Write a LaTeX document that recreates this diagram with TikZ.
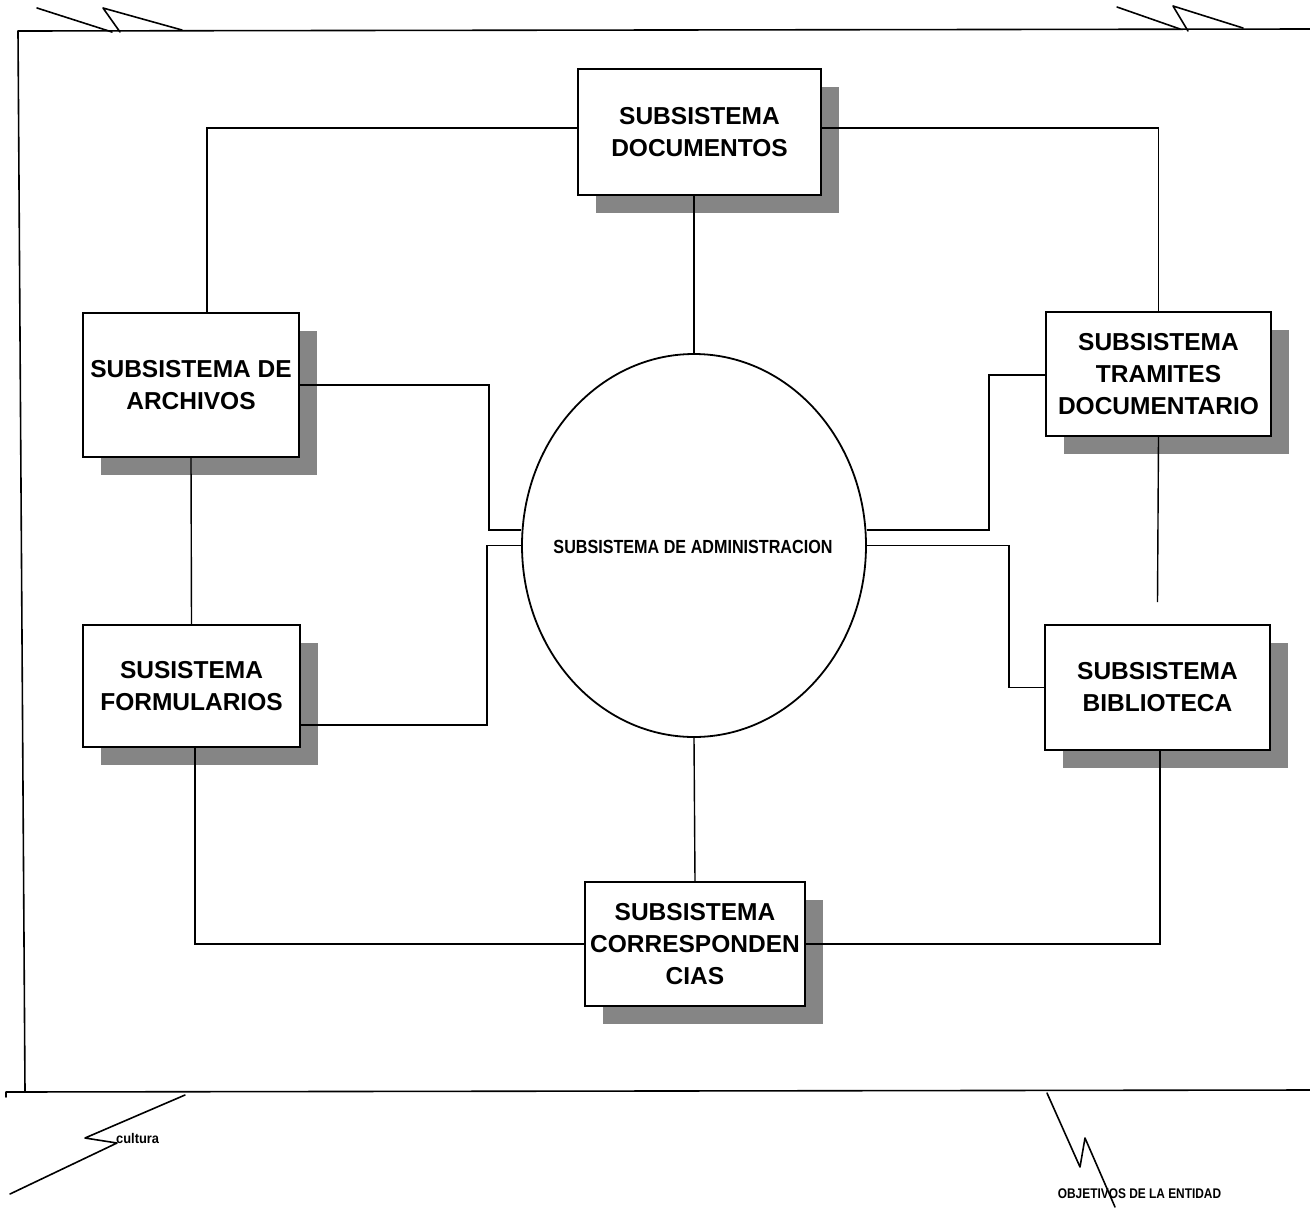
\documentclass[tikz,border=0pt]{standalone}
\usepackage{fontspec}
\setmainfont{Liberation Sans}
\usetikzlibrary{shapes.geometric,shadows,calc}
\begin{document}
\begin{tikzpicture}[x=1pt,y=-1pt,
  frameline/.style={line width=1.6pt,line cap=round,line join=round},
  conn/.style={line width=1.4pt},
  subbox/.style={draw,line width=2pt,fill=white,rectangle,inner sep=0pt,
    align=center,font=\bfseries\fontsize{24.5}{32}\selectfont,
    drop shadow={shadow xshift=18pt,shadow yshift=-18pt,opacity=1,fill=black!48}},
  centre/.style={draw,line width=1.8pt,ellipse,inner sep=0pt,fill=white,
    minimum width=344pt,minimum height=383pt},
  smalltxt/.style={inner sep=0pt,font=\bfseries}
]
\useasboundingbox (0,0) rectangle (1310,1208);
\fill[white] (0,0) rectangle (1310,1208);

% outer frame
\draw[frameline] (1310,29) -- (18,31) -- (25,1091);
\draw[frameline] (6,1097) -- (6,1092) -- (1310,1090);
% break marks
\draw[frameline] (37,8) -- (112,32);
\draw[frameline] (120,32) -- (103,8) -- (182,30);
\draw[frameline] (1117,7) -- (1180,29);
\draw[frameline] (1188,31) -- (1173,6) -- (1243,28);
\draw[frameline] (185,1095) -- (85,1138) -- (117,1143) -- (10,1194);
\draw[frameline] (1047,1093) -- (1080,1167) -- (1085,1138) -- (1115,1207);

% nodes
\node[centre] (ell) at (694,545.5) {};
\node[inner sep=0pt,font=\bfseries\fontsize{19}{22}\selectfont,xscale=0.85] (elltxt) at (693,547) {SUBSISTEMA DE ADMINISTRACION};

\node[subbox,minimum width=243pt,minimum height=126pt] (doc) at (699.5,132) {SUBSISTEMA\\DOCUMENTOS};
\node[subbox,minimum width=216pt,minimum height=144pt] (arch) at (191,385) {SUBSISTEMA DE\\ARCHIVOS};
\node[subbox,minimum width=217pt,minimum height=122pt] (form) at (191.5,686) {SUSISTEMA\\FORMULARIOS};
\node[subbox,minimum width=225pt,minimum height=124pt] (tram) at (1158.5,374) {SUBSISTEMA\\TRAMITES\\DOCUMENTARIO};
\node[subbox,minimum width=225pt,minimum height=125pt] (bib) at (1157.5,687.5) {SUBSISTEMA\\BIBLIOTECA};
\node[subbox,minimum width=220pt,minimum height=124pt] (corr) at (695,944) {SUBSISTEMA\\CORRESPONDEN\\CIAS};

% connectors
\draw[conn] ([yshift=4pt]doc.west) -| ([xshift=16pt]arch.north);
\draw[conn] ([yshift=4pt]doc.east) -| (tram.north);
\draw[conn] (ell.north) -- (ell.north |- doc.south);
\draw[conn] (arch.east) -- ++(189,0) |- ([yshift=15.5pt]ell.west);
\draw[conn] ([yshift=-39pt]form.east) -- ++(186,0) |- (ell.west);
\draw[conn] (arch.south) -- (form.north);
\draw[conn] ([xshift=3.5pt]form.south) |- (corr.west);
\draw[conn] ([xshift=2.5pt]bib.south) |- (corr.east);
\draw[conn] (ell.south) -- (corr.north);
\draw[conn] ([yshift=-1pt]tram.west) -- ++(-56,0) |- ([yshift=15.5pt]ell.east);
\draw[conn] (bib.west) -- ++(-35,0) |- (ell.east);
\draw[conn] (tram.south) -- ([yshift=22pt]bib.north);

% free labels
\node[smalltxt,font=\bfseries\fontsize{14}{16}\selectfont,xscale=0.92,anchor=base west] (cult) at (116,1143) {cultura};
\node[smalltxt,font=\bfseries\fontsize{14}{16}\selectfont,xscale=0.85,anchor=base] (obj) at (1139.5,1198) {OBJETIVOS DE LA ENTIDAD};
\end{tikzpicture}
\end{document}
